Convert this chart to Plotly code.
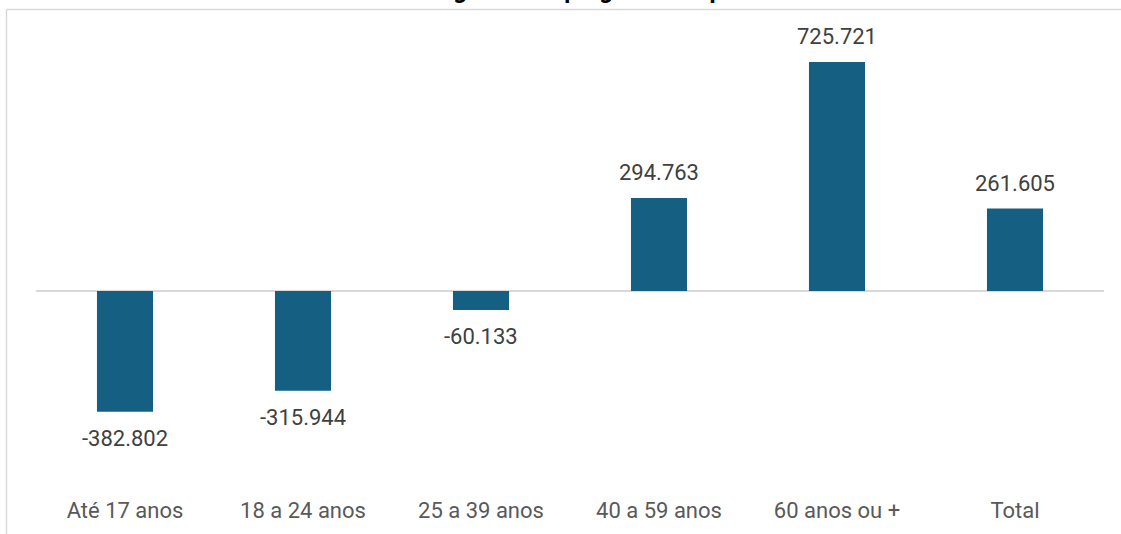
import plotly.graph_objects as go

categories = ["Até 17 anos", "18 a 24 anos", "25 a 39 anos", "40 a 59 anos", "60 anos ou +", "Total"]
values = [-382.802, -315.944, -60.133, 294.763, 725.721, 261.605]
labels = ["-382.802", "-315.944", "-60.133", "294.763", "725.721", "261.605"]
title_text = "Saldo de vagas de emprego formal por faixa etária"

W, H = 1121, 534
L, R, T, B = 36, 17, 20, 44
plot_w = W - L - R
plot_h = H - T - B
ymin, ymax = -630.6, 858.7

def px_x(p):
    return (p - L) / plot_w

def px_y(p):
    return (H - B - p) / plot_h

fig = go.Figure()
fig.add_trace(go.Bar(
    x=categories, y=values,
    marker=dict(color="#156082", line=dict(width=0)),
    width=0.315,
    hoverinfo="skip",
))

annotations = []
for c, v, t in zip(categories, values, labels):
    annotations.append(dict(
        x=c, y=v, xref="x", yref="y", text=t, showarrow=False,
        yshift=25 if v >= 0 else -27,
        font=dict(family="Roboto", size=22, color="#404040"),
    ))
annotations.append(dict(
    x=0.5, y=px_y(5.5), xref="paper", yref="paper", text="<b>" + title_text + "</b>",
    showarrow=False, xanchor="center", yanchor="bottom",
    font=dict(family="Roboto", size=24, color="#000000"),
    xshift=30,
))

shapes = [
    dict(type="line", xref="paper", yref="paper", x0=px_x(6.5), x1=px_x(1125), y0=px_y(9.5), y1=px_y(9.5),
         line=dict(color="#d9d9d9", width=1.5)),
    dict(type="line", xref="paper", yref="paper", x0=px_x(6.5), x1=px_x(6.5), y0=px_y(9.5), y1=px_y(540),
         line=dict(color="#d9d9d9", width=1.5)),
]

fig.update_layout(
    width=W, height=H,
    margin=dict(l=L, r=R, t=T, b=B),
    paper_bgcolor="white", plot_bgcolor="white",
    showlegend=False,
    annotations=annotations,
    shapes=shapes,
    xaxis=dict(showgrid=False, showline=False, ticks="", ticklabelstandoff=5, automargin=False,
               tickfont=dict(family="Roboto", size=22, color="#595959")),
    yaxis=dict(range=[ymin, ymax], showgrid=False, showticklabels=False, ticks="", automargin=False,
               zeroline=True, zerolinecolor="#d9d9d9", zerolinewidth=1.5, showline=False),
)

fig.write_html("out.html")
